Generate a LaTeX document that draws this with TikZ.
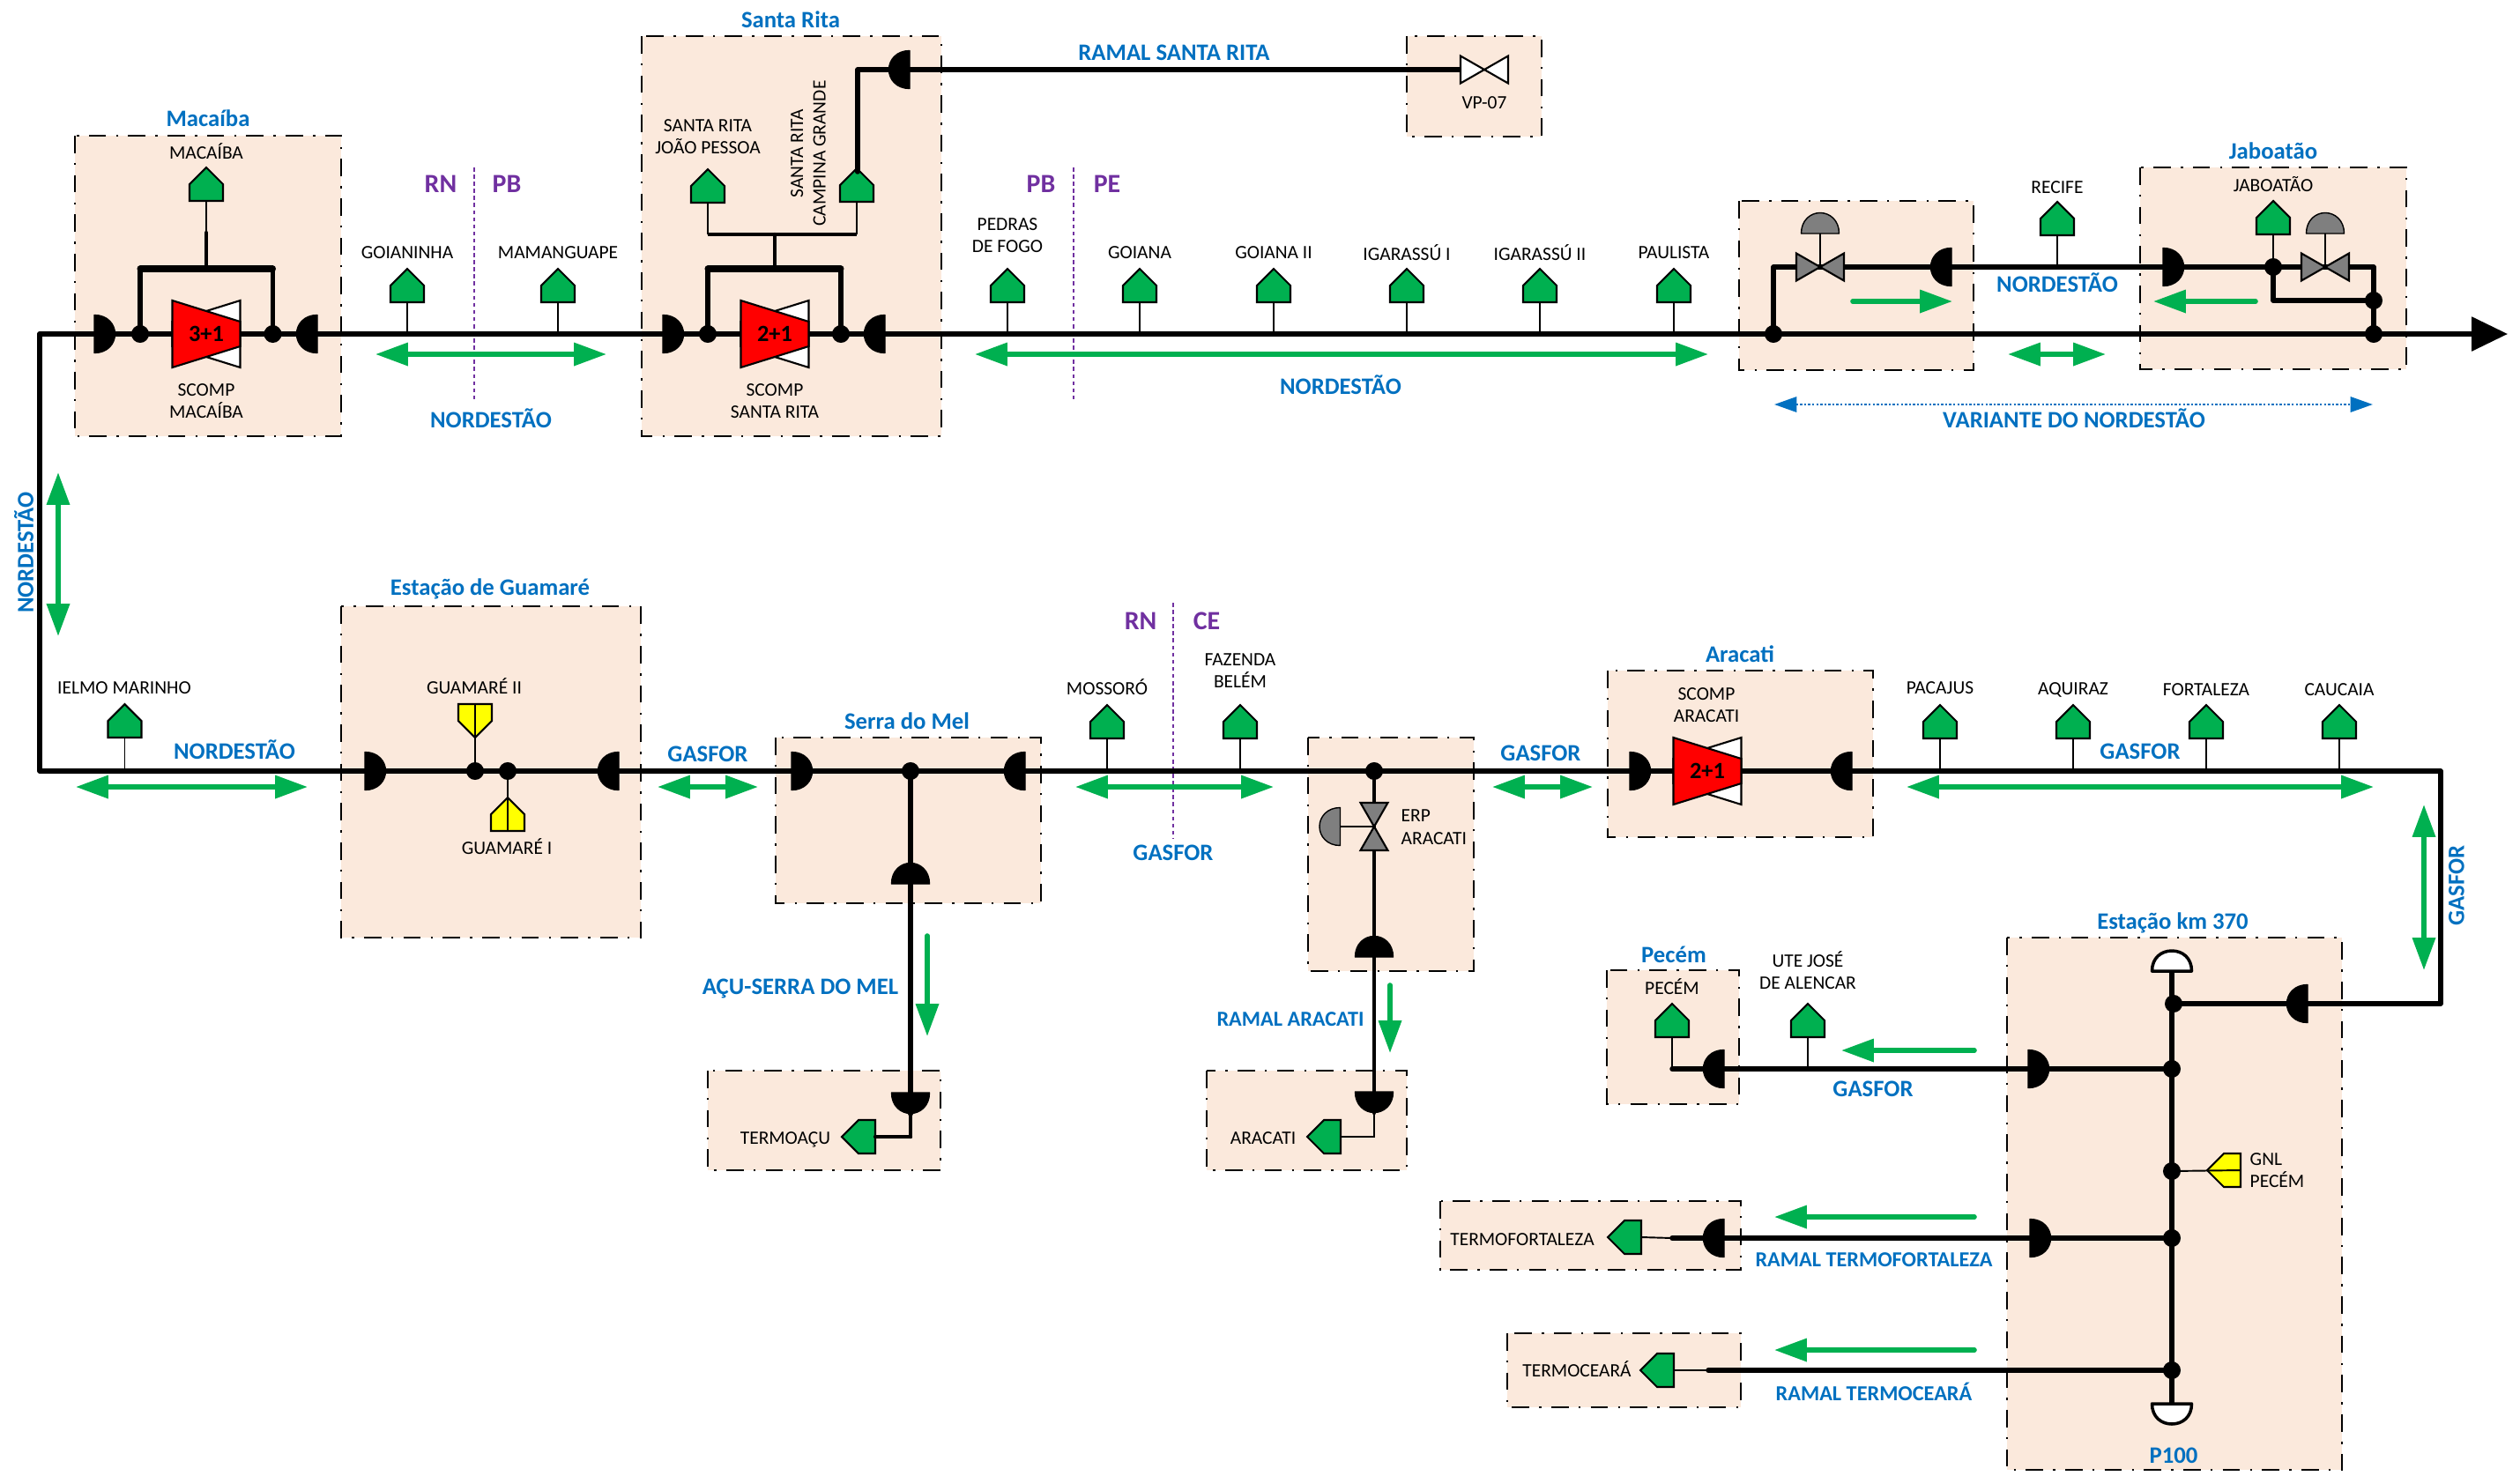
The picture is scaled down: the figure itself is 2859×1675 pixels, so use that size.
\documentclass[tikz,border=0pt]{standalone}
\usepackage{fontspec}
\setmainfont{Carlito}
\usetikzlibrary{arrows.meta}
\definecolor{gnGreen}{HTML}{00B050}
\definecolor{lblBlue}{HTML}{0070C0}
\definecolor{statePurple}{HTML}{7030A0}
\definecolor{boxFill}{HTML}{FBE9DC}
\definecolor{gnYellow}{HTML}{FFFF00}
\definecolor{actGray}{HTML}{7F7F7F}
\definecolor{compRed}{HTML}{FF0000}
\tikzset{
  stationbox/.style={draw=black,fill=boxFill,line width=0.55pt,dash pattern=on 5.6pt off 3.2pt on 0.7pt off 3.2pt},
  pipe/.style={draw=black,line width=1.55pt,line cap=round,line join=round},
  branchpipe/.style={draw=black,line width=1.25pt,line cap=round,line join=round},
  barpipe/.style={draw=black,line width=2pt,line cap=round},
  stem/.style={draw=black,line width=0.55pt},
  jdot/.style={circle,fill=black,inner sep=0pt,minimum size=5.7pt},
  flowboth/.style={draw=gnGreen,line width=1.6pt,{Triangle[length=10.5pt,width=7.2pt]}-{Triangle[length=10.5pt,width=7.2pt]}},
  flowone/.style={draw=gnGreen,line width=1.6pt,line cap=round,-{Triangle[length=10.5pt,width=7.2pt]}},
  varflow/.style={draw=lblBlue,line width=0.7pt,dash pattern=on 0.7pt off 0.6pt,{Triangle[length=7.2pt,width=4.9pt]}-{Triangle[length=7.2pt,width=4.9pt]}},
  borderline/.style={draw=statePurple,line width=0.4pt,dash pattern=on 1.3pt off 1pt},
  lbl/.style={inner sep=0pt,align=center,text=black,font=\fontsize{6.1}{7.1}\selectfont},
  ttl/.style={inner sep=0pt,align=center,text=lblBlue,font=\fontsize{7.6}{9}\selectfont\bfseries},
  ramaltxt/.style={inner sep=0pt,align=center,text=lblBlue,font=\fontsize{6.9}{9}\selectfont\bfseries},
  statetxt/.style={inner sep=0pt,text=statePurple,font=\fontsize{8.5}{10}\selectfont\bfseries},
  comptxt/.style={inner sep=0pt,text=black,font=\fontsize{7.5}{9}\selectfont\bfseries},
  pics/gate/.style={code={
    \path[draw=black,line width=0.6pt,line join=miter,fill=#1] (-19,0)--(19,0)--(19,-19)--(0,-38)--(-19,-19)--cycle;
    \coordinate (-p) at (0,0);}},
  pics/joint/.style={code={
    \path[draw=black,line width=0.4pt,line join=round,fill=#1] (0,-21.5) .. controls (15,-21.5) and (23.5,-11) .. (23.5,0) .. controls (23.5,11) and (15,21.5) .. (0,21.5) -- cycle;
    \coordinate (-p) at (0,0);}},
  pics/capdome/.style={code={
    \path[draw=black,line width=1pt,line join=round,fill=white] (0,-22.5) .. controls (15,-22.5) and (23,-12) .. (23,0) .. controls (23,12) and (15,22.5) .. (0,22.5) -- cycle;
    \coordinate (-p) at (0,0);}},
  pics/bowtie/.style={code={
    \path[draw=black,line width=0.6pt,line join=miter,fill=#1] (-27,-15.5)--(27,15.5)--(27,-15.5)--(-27,15.5)--cycle;
    \coordinate (-l) at (-27,0);\coordinate (-r) at (27,0);\coordinate (-c) at (0,0);}},
  pics/compressor/.style={code={
    \path[draw=black,line width=0.6pt,fill=white] (38.5,-38)--(-38.5,-14)--(-38.5,14)--(38.5,38)--cycle;
    \path[draw=black,line width=0.6pt,fill=compRed] (-38.5,-38)--(38.5,-14)--(38.5,14)--(-38.5,38)--cycle;}}
}
\newcommand{\station}[4]{\path[stationbox] (#1,#2) rectangle (#3,#4);}
\newcommand{\bothflow}[5]{\coordinate (#1a) at (#2,#3);\coordinate (#1b) at (#4,#5);\draw[flowboth] (#1a)--(#1b);}
\newcommand{\oneflow}[5]{\coordinate (#1a) at (#2,#3);\coordinate (#1b) at (#4,#5);\draw[flowone] (#1a)--(#1b);}
\begin{document}
\begin{tikzpicture}[x=0.01cm,y=-0.01cm]
\useasboundingbox (0,0) rectangle (2859,1675);
% --- stations
\station{85}{154}{387}{495}
\station{728}{41}{1068}{495}
\station{1596}{41}{1749}{155}
\station{1973}{228}{2239}{420}
\station{2428}{190}{2730}{419}
\station{387}{688}{727}{1064}
\station{880}{837}{1181}{1025}
\station{803}{1215}{1067}{1328}
\station{1484}{837}{1672}{1102}
\station{1369}{1215}{1596}{1328}
\station{1824}{761}{2125}{950}
\station{1823}{1101}{1973}{1253}
\station{2277}{1064}{2657}{1668}
\station{1634}{1363}{1975}{1441}
\station{1710}{1513}{1975}{1597}
% --- state borders
\coordinate (bRPa) at (538,190);\coordinate (bRPb) at (538,456);\draw[borderline] (bRPa)--(bRPb);
\coordinate (bPPa) at (1218,190);\coordinate (bPPb) at (1218,456);\draw[borderline] (bPPa)--(bPPb);
\coordinate (bRCa) at (1331,684);\coordinate (bRCb) at (1331,951);\draw[borderline] (bRCa)--(bRCb);
% --- junctions
\node[jdot] (jMacL) at (159,379) {};
\node[jdot] (jMacR) at (309.5,379) {};
\node[jdot] (jSanL) at (803,379) {};
\node[jdot] (jSanR) at (954,379) {};
\node[jdot] (jVarW) at (2012,379) {};
\node[jdot] (jVarE) at (2693,379) {};
\node[jdot] (jJabM) at (2693,341) {};
\node[jdot] (jJabG) at (2579,303) {};
\node[jdot] (jGuaA) at (539,875) {};
\node[jdot] (jGuaB) at (576,875) {};
\node[jdot] (jSerra) at (1033,875) {};
\node[jdot] (jErp) at (1559,875) {};
\node[jdot] (jKmA) at (2466,1139) {};
\node[jdot] (jKmB) at (2464,1213) {};
\node[jdot] (jKmC) at (2464,1329) {};
\node[jdot] (jKmD) at (2464,1405) {};
\node[jdot] (jKmE) at (2464,1555) {};
% --- gates
\pic (gMac) at (234,228) {gate=gnGreen};
\pic (gGoi) at (462,343) {gate=gnGreen};
\pic (gMam) at (633,343) {gate=gnGreen};
\pic (gJoao) at (803,230) {gate=gnGreen};
\pic (gCamp) at (972,229) {gate=gnGreen};
\pic (gPed) at (1143,343) {gate=gnGreen};
\pic (gGoa) at (1293,343) {gate=gnGreen};
\pic (gGoB) at (1445,343) {gate=gnGreen};
\pic (gIgA) at (1596,343) {gate=gnGreen};
\pic (gIgB) at (1747,343) {gate=gnGreen};
\pic (gPau) at (1899,343) {gate=gnGreen};
\pic (gRec) at (2334,267) {gate=gnGreen};
\pic (gJab) at (2579,266) {gate=gnGreen};
\pic (gIel) at (141.5,837) {gate=gnGreen};
\pic[rotate=180] (gGuaB) at (539,799) {gate=gnYellow};
\pic (gGuaI) at (576,943) {gate=gnYellow};
\pic (gMos) at (1256,838) {gate=gnGreen};
\pic (gFaz) at (1407,838) {gate=gnGreen};
\pic (gPac) at (2201,838) {gate=gnGreen};
\pic (gAqu) at (2352,838) {gate=gnGreen};
\pic (gFor) at (2503,838) {gate=gnGreen};
\pic (gCau) at (2654,838) {gate=gnGreen};
\pic[rotate=90] (gTAcu) at (993,1290) {gate=gnGreen};
\pic[rotate=90] (gTAra) at (1521,1290) {gate=gnGreen};
\pic (gPec) at (1897,1177) {gate=gnGreen};
\pic (gUte) at (2051,1177) {gate=gnGreen};
\pic[rotate=90] (gTFor) at (1862,1404) {gate=gnGreen};
\pic[rotate=90] (gTCea) at (1899,1555) {gate=gnGreen};
\pic[rotate=90] (gGnl) at (2542,1328) {gate=gnYellow};
% --- insulating joints
\pic (jtA) at (107,379) {joint=black};
\pic[rotate=180] (jtB) at (360,379) {joint=black};
\pic (jtC) at (752,379) {joint=black};
\pic[rotate=180] (jtD) at (1004,379) {joint=black};
\pic[rotate=180] (jtE) at (1032,79) {joint=black};
\pic[rotate=180] (jtF) at (2214,303) {joint=black};
\pic (jtG) at (2454,303) {joint=black};
\pic (jtH) at (414,875) {joint=black};
\pic[rotate=180] (jtI) at (702,875) {joint=black};
\pic (jtJ) at (898,875) {joint=black};
\pic[rotate=180] (jtK) at (1163,875) {joint=black};
\pic[rotate=90] (jtL) at (1033,1003) {joint=black};
\pic[rotate=-90] (jtM) at (1033,1240) {joint=black};
\pic[rotate=90] (jtN) at (1559,1086) {joint=black};
\pic[rotate=-90] (jtO) at (1559,1239) {joint=black};
\pic (jtP) at (1849,875) {joint=black};
\pic[rotate=180] (jtQ) at (2101,875) {joint=black};
\pic[rotate=180] (jtR) at (2618,1139) {joint=black};
\pic (jtS) at (2301,1213) {joint=black};
\pic[rotate=180] (jtT) at (1956,1213) {joint=black};
\pic (jtU) at (2303,1405) {joint=black};
\pic[rotate=180] (jtV) at (1956,1405) {joint=black};
% --- pipe end points
\coordinate (nwCorner) at (45,379);
\coordinate (swCorner) at (45,875);
\coordinate (topEnd) at (2845,379);
\coordinate (seCorner) at (2769,875);
\coordinate (kmEast) at (2769,1139);
\coordinate (ramalCorner) at (973,79);
\coordinate (gCampApex) at (973,195);
\coordinate (vpLeft) at (1657,79);
\coordinate (macBarL) at (159,305);
\coordinate (macBarR) at (309.5,305);
\coordinate (macBarM) at (234,305);
\coordinate (macStemT) at (234,264);
\coordinate (sanBarL) at (803,305);
\coordinate (sanBarR) at (954,305);
\coordinate (sanBarM) at (879,305);
\coordinate (sanFork) at (879,266);
\coordinate (forkL) at (803,266);
\coordinate (forkR) at (972,266);
\coordinate (varNW) at (2012,303);
\coordinate (varNE) at (2693,303);
\coordinate (jabLow) at (2579,341);
\coordinate (serraLow) at (1033,1264);
\coordinate (serraTurn) at (1033,1290);
\coordinate (aracLow) at (1559,1263);
\coordinate (aracTurn) at (1559,1290);
\coordinate (kmTop) at (2464,1103);
\coordinate (kmBot) at (2464,1592);
\coordinate (tapPec) at (1897,1213);
\coordinate (tapFor) at (1897,1405);
\coordinate (tapCea) at (1938,1555);
% --- pipes
\draw[pipe,-{Triangle[length=11.6pt,width=10.8pt]}] (nwCorner)--(topEnd);
\draw[pipe] (nwCorner)--(swCorner)--(seCorner)--(kmEast)--(jKmA.center);
\draw[pipe] (kmTop)--(kmBot);
\draw[pipe] (jMacL.center)--(macBarL);\draw[pipe] (jMacR.center)--(macBarR);
\draw[barpipe] (macBarL)--(macBarR);
\draw[branchpipe] (macBarM)--(macStemT);
\draw[stem] (macStemT)--(gMac-p);
\draw[pipe] (jSanL.center)--(sanBarL);\draw[pipe] (jSanR.center)--(sanBarR);
\draw[barpipe] (sanBarL)--(sanBarR);
\draw[branchpipe] (sanBarM)--(sanFork);
\draw[draw=black,line width=0.9pt] (forkL)--(forkR);
\draw[stem] (forkL)--(gJoao-p);\draw[stem] (forkR)--(gCamp-p);
\draw[pipe] (gCampApex)--(ramalCorner)--(vpLeft);
\draw[stem] (gGoi-p)--(gGoi-p|-nwCorner);
\draw[stem] (gMam-p)--(gMam-p|-nwCorner);
\draw[stem] (gPed-p)--(gPed-p|-nwCorner);
\draw[stem] (gGoa-p)--(gGoa-p|-nwCorner);
\draw[stem] (gGoB-p)--(gGoB-p|-nwCorner);
\draw[stem] (gIgA-p)--(gIgA-p|-nwCorner);
\draw[stem] (gIgB-p)--(gIgB-p|-nwCorner);
\draw[stem] (gPau-p)--(gPau-p|-nwCorner);
\draw[pipe] (jVarW.center)--(varNW)--(varNE)--(jVarE.center);
\draw[pipe] (jJabG.center)--(jabLow)--(jJabM.center);
\draw[stem] (gRec-p)--(gRec-p|-varNW);
\draw[stem] (gJab-p)--(jJabG.center);
\draw[stem] (gIel-p)--(gIel-p|-swCorner);
\draw[stem] (gGuaB-p)--(jGuaA.center);
\draw[stem] (gGuaI-p)--(jGuaB.center);
\draw[stem] (gMos-p)--(gMos-p|-swCorner);
\draw[stem] (gFaz-p)--(gFaz-p|-swCorner);
\draw[stem] (gPac-p)--(gPac-p|-swCorner);
\draw[stem] (gAqu-p)--(gAqu-p|-swCorner);
\draw[stem] (gFor-p)--(gFor-p|-swCorner);
\draw[stem] (gCau-p)--(gCau-p|-swCorner);
\draw[pipe] (jSerra.center)--(serraLow);
\draw[branchpipe] (serraLow)--(serraTurn);
\draw[branchpipe] (serraTurn)--(gTAcu-p);
\draw[branchpipe] (jErp.center)--(aracLow);
\draw[stem] (aracLow)--(aracTurn)--(gTAra-p);
\draw[pipe] (tapPec)--(jKmB.center);
\draw[stem] (gPec-p)--(tapPec);
\draw[stem] (gUte-p)--(gUte-p|-tapPec);
\draw[pipe] (tapFor)--(jKmD.center);
\draw[stem] (gTFor-p)--(tapFor);
\draw[pipe] (tapCea)--(jKmE.center);
\draw[stem] (gTCea-p)--(tapCea);
\draw[stem] (gGnl-p)--(jKmC.center);
% --- end caps
\pic[rotate=90] (capTop) at (2464,1102) {capdome};
\pic[rotate=-90] (capBot) at (2464,1593) {capdome};
% --- compressors
\pic at (234,379) {compressor};
\pic at (879,379) {compressor};
\pic at (1937,875) {compressor};
\node[comptxt] (txtCompMac) at (234,379) {3+1};
\node[comptxt] (txtCompSan) at (879,379) {2+1};
\node[comptxt] (txtCompAra) at (1937,875) {2+1};
% --- valves and actuators
\pic (vVp) at (1684,79) {bowtie=white};
\pic (vVarA) at (2065,303) {bowtie=actGray};
\pic (vVarB) at (2638,303) {bowtie=actGray};
\pic[rotate=90] (vErp) at (1559,938) {bowtie=actGray};
\pic[rotate=90] (aVarA) at (2065,265) {joint=actGray};
\pic[rotate=90] (aVarB) at (2638,265) {joint=actGray};
\pic[rotate=180] (aErp) at (1520.5,938) {joint=actGray};
\draw[stem] (aVarA-p)--(vVarA-c);
\draw[stem] (aVarB-p)--(vVarB-c);
\draw[stem] (aErp-p)--(vErp-c);
% --- flow arrows
\bothflow{fA}{426}{402}{688}{402}
\bothflow{fB}{1106}{402}{1938}{402}
\bothflow{fC}{2278}{402}{2389}{402}
\oneflow{fD}{2102}{342}{2215}{342}
\oneflow{fE}{2559}{342}{2443}{342}
\bothflow{fF}{66}{536}{66}{722}
\bothflow{fG}{86}{893}{349}{893}
\bothflow{fH}{746}{893}{860}{893}
\bothflow{fI}{1220}{893}{1445}{893}
\bothflow{fJ}{1693}{893}{1807}{893}
\bothflow{fK}{2163}{893}{2693}{893}
\bothflow{fL}{2750}{913}{2750}{1101}
\oneflow{fM}{1052}{1062}{1052}{1176}
\oneflow{fN}{1577}{1118}{1577}{1195}
\oneflow{fO}{2240}{1192}{2089}{1192}
\oneflow{fP}{2240}{1381}{2013}{1381}
\oneflow{fQ}{2240}{1532}{2013}{1532}
\coordinate (varA) at (2013,459);\coordinate (varB) at (2692,459);
\draw[varflow] (varA)--(varB);
% --- titles
\node[ttl] (tMac) at (236,134) {Macaíba};
\node[ttl] (tSan) at (897,22) {Santa Rita};
\node[ttl] (tJab) at (2579,171) {Jaboatão};
\node[ttl] (tGua) at (556,668) {Estação de Guamaré};
\node[ttl] (tSer) at (1029,818) {Serra do Mel};
\node[ttl] (tAra) at (1974,742) {Aracati};
\node[ttl] (tPec) at (1899,1083) {Pecém};
\node[ttl] (tKm) at (2465,1047) {Estação km 370};
\node[ttl] (tP100) at (2466,1652) {P100};
% --- pipeline names
\node[ttl] (pRamalS) at (1332,60) {RAMAL SANTA RITA};
\node[ttl] (pNordA) at (557,475) {NORDESTÃO};
\node[ttl] (pNordB) at (1521,437) {NORDESTÃO};
\node[ttl] (pNordC) at (2334,321) {NORDESTÃO};
\node[ttl] (pVar) at (2353,475) {VARIANTE DO NORDESTÃO};
\node[ttl,rotate=90] (pNordD) at (27,627) {NORDESTÃO};
\node[ttl] (pNordE) at (266,851) {NORDESTÃO};
\node[ttl] (pGasA) at (803,856) {GASFOR};
\node[ttl] (pGasB) at (1331,968) {GASFOR};
\node[ttl] (pGasC) at (1748,855) {GASFOR};
\node[ttl] (pGasD) at (2428,853) {GASFOR};
\node[ttl,rotate=90] (pGasE) at (2787,1005) {GASFOR};
\node[ttl] (pGasF) at (2125,1236) {GASFOR};
\node[ttl] (pAcu) at (908,1122) {AÇU-SERRA DO MEL};
\node[ramaltxt] (pRamalA) at (1464,1157) {RAMAL ARACATI};
\node[ramaltxt] (pRamalF) at (2126,1430) {RAMAL TERMOFORTALEZA};
\node[ramaltxt] (pRamalC) at (2126,1579) {RAMAL TERMOCEARÁ};
% --- states
\node[statetxt] (sRNa) at (500,209) {RN};
\node[statetxt] (sPBa) at (575,209) {PB};
\node[statetxt] (sPBb) at (1181,209) {PB};
\node[statetxt] (sPEb) at (1256,209) {PE};
\node[statetxt] (sRNc) at (1294,705) {RN};
\node[statetxt] (sCEc) at (1369,705) {CE};
% --- point labels
\node[lbl] (lMac) at (234,172) {MACAÍBA};
\node[lbl] (lScMac) at (234,455) {SCOMP\\[0.2pt]MACAÍBA};
\node[lbl] (lGoi) at (462,287) {GOIANINHA};
\node[lbl] (lMam) at (633,287) {MAMANGUAPE};
\node[lbl] (lJoao) at (803,155) {SANTA RITA\\[0.2pt]JOÃO PESSOA};
\node[lbl,rotate=90] (lCamp) at (917,174) {SANTA RITA\\[0.2pt]CAMPINA GRANDE};
\node[lbl] (lScSan) at (879,455) {SCOMP\\[0.2pt]SANTA RITA};
\node[lbl] (lVp) at (1684,117) {VP-07};
\node[lbl] (lPed) at (1143,267) {PEDRAS\\[0.2pt]DE FOGO};
\node[lbl] (lGoa) at (1293,287) {GOIANA};
\node[lbl] (lGoB) at (1445,287) {GOIANA II};
\node[lbl] (lIgA) at (1596,287) {IGARASSÚ I};
\node[lbl] (lIgB) at (1747,287) {IGARASSÚ II};
\node[lbl] (lPau) at (1899,287) {PAULISTA};
\node[lbl] (lRec) at (2334,213) {RECIFE};
\node[lbl] (lJab) at (2579,209) {JABOATÃO};
\node[lbl] (lIel) at (141,781) {IELMO MARINHO};
\node[lbl] (lGuaB) at (538,779) {GUAMARÉ II};
\node[lbl] (lGuaI) at (575,961) {GUAMARÉ I};
\node[lbl] (lTAcu) at (891,1293) {TERMOAÇU};
\node[lbl] (lMos) at (1256,780) {MOSSORÓ};
\node[lbl] (lFaz) at (1407,761) {FAZENDA\\[0.2pt]BELÉM};
\node[lbl,align=left,anchor=west] (lErp) at (1589,939) {ERP\\[0.2pt]ARACATI};
\node[lbl] (lTAra) at (1433,1292) {ARACATI};
\node[lbl] (lScAra) at (1936,800) {SCOMP\\[0.2pt]ARACATI};
\node[lbl] (lPac) at (2201,781) {PACAJUS};
\node[lbl] (lAqu) at (2352,783) {AQUIRAZ};
\node[lbl] (lFor) at (2503,783) {FORTALEZA};
\node[lbl] (lCau) at (2654,783) {CAUCAIA};
\node[lbl] (lPec) at (1897,1120) {PECÉM};
\node[lbl] (lUte) at (2051,1101) {UTE JOSÉ\\[0.2pt]DE ALENCAR};
\node[lbl,align=left,anchor=west] (lGnl) at (2552,1328) {GNL\\[0.2pt]PECÉM};
\node[lbl] (lTFor) at (1727,1407) {TERMOFORTALEZA};
\node[lbl] (lTCea) at (1789,1554) {TERMOCEARÁ};
\end{tikzpicture}
\end{document}
